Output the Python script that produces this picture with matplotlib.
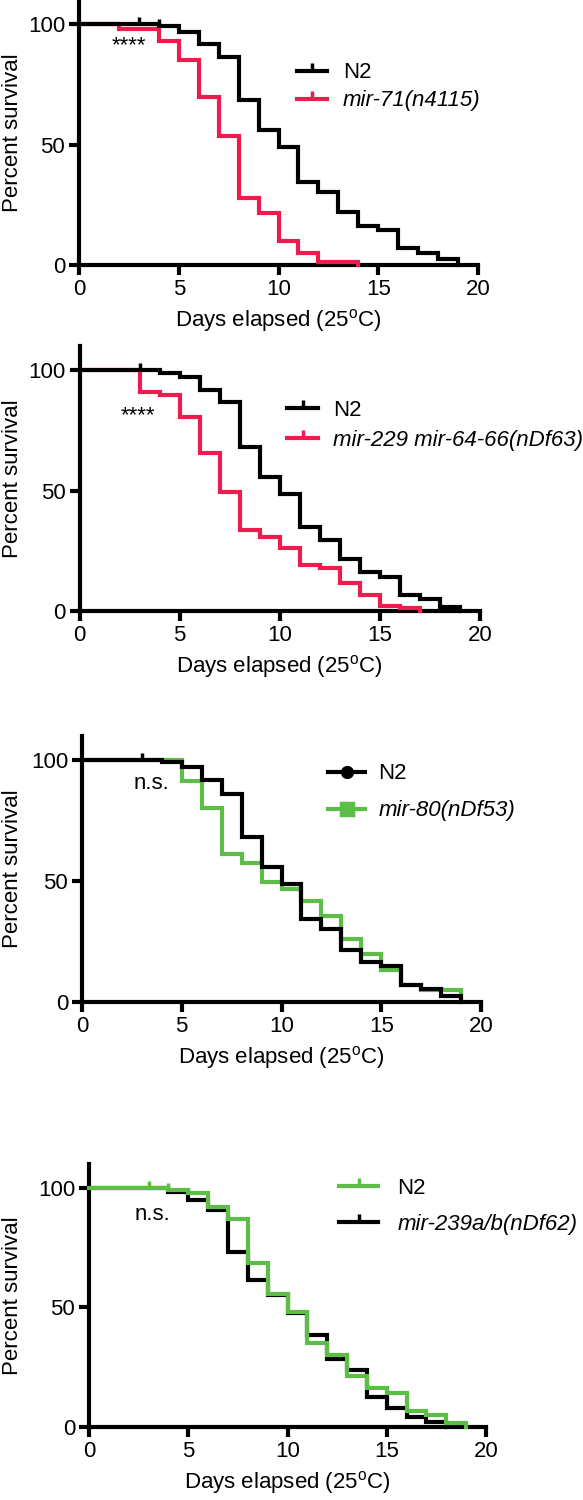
# Survival curves at 25 C: four miRNA mutants vs N2
# Kaplan-Meier style step plots, stacked vertically

import matplotlib.pyplot as plt
from matplotlib.lines import Line2D
from matplotlib.transforms import blended_transform_factory

plt.rcParams["font.family"] = ["Liberation Sans", "DejaVu Sans"]
plt.rcParams["mathtext.fontset"] = "custom"
plt.rcParams["mathtext.rm"] = "Liberation Sans"
plt.rcParams["mathtext.it"] = "Liberation Sans:italic"


# Data (percent survival) ...............................

# Panel A: N2 vs mir-71(n4115)
a_n2_days = [0, 4, 5, 6, 7, 8, 9, 10, 11, 12, 13, 14, 15, 16, 17, 18, 19]
a_n2_surv = [100, 99.2, 96.8, 91.7, 86.4, 68.5, 56, 49, 34.6, 30.2, 22, 16, 14.5, 7, 4.8, 2.4, 0]
a_mut_days = [0, 2, 4, 5, 6, 7, 8, 9, 10, 11, 12, 14]
a_mut_surv = [100, 97.8, 93, 85.3, 69.8, 53.5, 28, 21.4, 10, 4.8, 1.4, 0]
a_cens_days = [3, 4]
a_cens_surv = [100, 99.2]

# Panel B: N2 vs mir-229 mir-64-66(nDf63)
b_n2_days = [0, 4, 5, 6, 7, 8, 9, 10, 11, 12, 13, 14, 15, 16, 17, 18, 19]
b_n2_surv = [100, 99, 97.2, 91.7, 86.9, 68.2, 55.7, 48.4, 35, 29.5, 21.4, 16, 14.2, 6.6, 5, 1.5, 0]
b_mut_days = [0, 3, 4, 5, 6, 7, 8, 9, 10, 11, 12, 13, 14, 15, 16, 17]
b_mut_surv = [100, 91, 89.6, 80.6, 65.4, 49.2, 33.6, 30.8, 26, 19, 17.7, 11.5, 6.6, 2, 1.1, 0]
b_cens_days = [3]
b_cens_surv = [100]

# Panel C: N2 vs mir-80(nDf53)
c_n2_days = [0, 4, 5, 6, 7, 8, 9, 10, 11, 12, 13, 14, 15, 16, 17, 18, 19]
c_n2_surv = [100, 99.3, 97, 91.7, 86.2, 68.3, 55.9, 48.7, 34.5, 30, 21.7, 16.6, 14.9, 7.2, 5.2, 2.3, 0]
c_mut_days = [0, 5, 6, 7, 8, 9, 10, 11, 12, 13, 14, 15, 16, 17, 19]
c_mut_surv = [100, 91.4, 80.4, 61.4, 57.5, 49.7, 46.6, 41.7, 35.6, 26, 20, 13.1, 7, 5, 0]
c_cens_days = [3]
c_cens_surv = [100]

# Panel D: N2 vs mir-239a/b(nDf62)
d_n2_days = [0, 4, 5, 6, 7, 8, 9, 10, 11, 12, 13, 14, 15, 16, 17, 18, 19]
d_n2_surv = [100, 99.3, 97.9, 92, 87, 68.5, 55.7, 48.3, 35, 30, 21.4, 16.4, 14.4, 6.6, 4.9, 1.8, 0]
d_mut_days = [0, 4, 5, 6, 7, 8, 9, 10, 11, 12, 13, 14, 15, 16, 17, 18]
d_mut_surv = [100, 98.3, 95.1, 90.9, 73.4, 61.5, 55.2, 47.6, 38.5, 28.3, 24, 12.6, 8, 4.2, 2, 0]
d_cens_days = [3, 4]
d_cens_surv = [100, 99.3]

labels_a = ["N2", "mir-71(n4115)"]
labels_b = ["N2", "mir-229 mir-64-66(nDf63)"]
labels_c = ["N2", "mir-80(nDf53)"]
labels_d = ["N2", "mir-239a/b(nDf62)"]
stats = ["****", "****", "n.s.", "n.s."]


# Style ......................................................................

red = "#EE1C4E"
green = "#5DBE47"
black = "#000000"
fs = 16
lw = 3.0

fig = plt.figure(figsize=(5.83, 15), dpi=100)
W, H = 583, 1500


def make_axes(x0, x20, y0, y110):
    # pixel positions of the data frame -> figure fractions
    return fig.add_axes([x0 / W, 1 - y0 / H, (x20 - x0) / W, (y0 - y110) / H])


def style_axes(ax):
    ax.set_xlim(0, 20)
    ax.set_ylim(0, 110)
    ax.spines[["top", "right"]].set_visible(False)
    ax.spines["bottom"].set_bounds(0, 20)
    ax.spines["left"].set_bounds(0, 110)
    for s in ["left", "bottom"]:
        ax.spines[s].set_linewidth(lw)
    ax.set_xticks([0, 5, 10, 15, 20])
    ax.set_yticks([0, 50, 100])
    ax.tick_params(width=lw, length=7, labelsize=fs, pad=3)
    ax.set_xlabel(r"Days elapsed (25$^{\mathrm{o}}$C)", fontsize=fs, labelpad=5)
    ax.set_ylabel("Percent survival", fontsize=fs)
    ax.yaxis.set_label_coords(23 / W, 0.5,
                              transform=blended_transform_factory(fig.transFigure, ax.transAxes))


def plot_panel(ax, first, second, cens, colors, labels, stat, stat_xy,
               leg_xy, hlen, hpad, lspace, leg_markers=(2, 2)):
    # mutant first, N2 drawn on top
    ax.step(second[0], second[1], where="post", color=colors[1], lw=lw,
            solid_joinstyle="miter", clip_on=False, zorder=3)
    ax.step(first[0], first[1], where="post", color=colors[0], lw=lw,
            solid_joinstyle="miter", clip_on=False, zorder=4)
    ax.plot(cens[0], cens[1], ls="none", marker=2, ms=5, mew=2.5,
            color=colors[0], clip_on=False, zorder=4)
    ax.text(stat_xy[0], stat_xy[1], stat, fontsize=fs, ha="center", va="center")
    sizes = {2: 6, "o": 7, "s": 8}
    handles = [Line2D([], [], color=c, lw=lw, marker=m, ms=sizes[m], mew=2.5)
               for c, m in zip(colors, leg_markers)]
    leg = ax.legend(handles, labels, loc="center left", bbox_to_anchor=leg_xy,
                    frameon=False, fontsize=fs, handlelength=hlen,
                    handletextpad=hpad, labelspacing=lspace, numpoints=1,
                    borderpad=0, borderaxespad=0)
    leg.get_texts()[1].set_style("italic")
    style_axes(ax)


ax1 = make_axes(79, 478, 265, 0)
plot_panel(ax1, (a_n2_days, a_n2_surv), (a_mut_days, a_mut_surv),
           (a_cens_days, a_cens_surv), [black, red], labels_a, stats[0], (2.5, 91),
           (0.546, 0.672), 1.35, 0.72, 0.32)

ax2 = make_axes(79.5, 480, 611, 346)
plot_panel(ax2, (b_n2_days, b_n2_surv), (b_mut_days, b_mut_surv),
           (b_cens_days, b_cens_surv), [black, red], labels_b, stats[1], (2.9, 81),
           (0.518, 0.70), 1.4, 0.68, 0.41)

ax3 = make_axes(82, 481, 1002, 736)
plot_panel(ax3, (c_n2_days, c_n2_surv), (c_mut_days, c_mut_surv),
           (c_cens_days, c_cens_surv), [black, green], labels_c, stats[2], (3.5, 90.5),
           (0.617, 0.788), 1.67, 0.59, 0.72, leg_markers=("o", "s"))

ax4 = make_axes(89, 486, 1427, 1164)
plot_panel(ax4, (d_n2_days, d_n2_surv), (d_mut_days, d_mut_surv),
           (d_cens_days, d_cens_surv), [green, black], labels_d, stats[3], (3.2, 88.7),
           (0.63, 0.84), 1.76, 0.86, 0.68)

plt.savefig("out.png", dpi=100)
